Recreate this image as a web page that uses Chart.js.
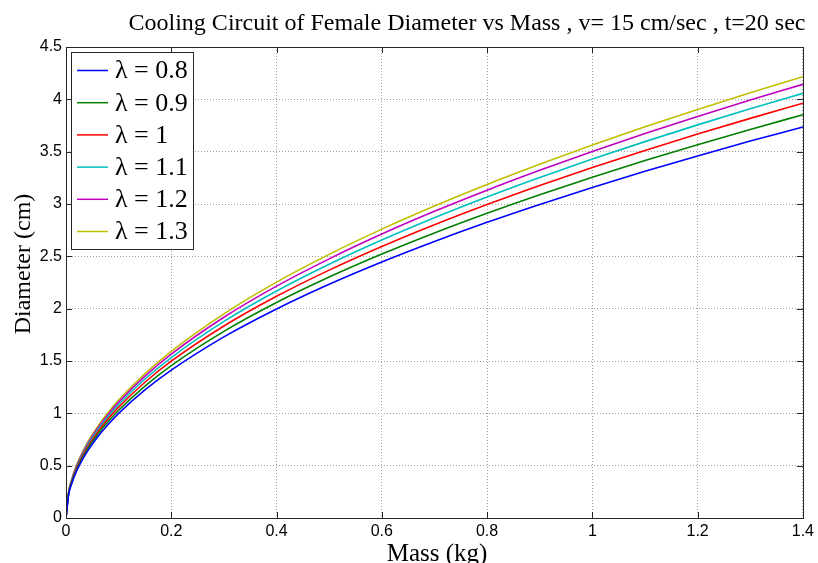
<!DOCTYPE html>
<html>
<head>
<meta charset="utf-8">
<script src="https://cdn.jsdelivr.net/npm/chart.js@4.4.1/dist/chart.umd.min.js"></script>
<style>
  html, body { margin: 0; padding: 0; background: #fff; }
  canvas { display: block; }
</style>
</head>
<body>
<canvas id="chart" width="818" height="563"></canvas>
<script>
// values
const mass = [0, 0.005, 0.01, 0.02, 0.04, 0.06, 0.08, 0.1, 0.15, 0.2, 0.3, 0.4, 0.5, 0.6, 0.7, 0.8, 0.9, 1.0, 1.1, 1.2, 1.3, 1.4];
const lambdas = ['0.8', '0.9', '1', '1.1', '1.2', '1.3'];
const d08 = [0, 0.223, 0.316, 0.447, 0.632, 0.773, 0.893, 0.999, 1.223, 1.412, 1.730, 1.997, 2.233, 2.446, 2.642, 2.825, 2.996, 3.158, 3.312, 3.459, 3.601, 3.736];
const d09 = [0, 0.230, 0.326, 0.460, 0.651, 0.797, 0.921, 1.030, 1.261, 1.456, 1.783, 2.059, 2.302, 2.522, 2.724, 2.912, 3.089, 3.256, 3.415, 3.567, 3.712, 3.853];
const d10 = [0, 0.237, 0.335, 0.474, 0.670, 0.820, 0.947, 1.059, 1.297, 1.498, 1.834, 2.118, 2.368, 2.594, 2.802, 2.995, 3.177, 3.349, 3.512, 3.668, 3.818, 3.962];
const d11 = [0, 0.242, 0.343, 0.485, 0.686, 0.840, 0.970, 1.084, 1.328, 1.533, 1.878, 2.169, 2.425, 2.656, 2.869, 3.067, 3.253, 3.429, 3.596, 3.756, 3.910, 4.057];
const d12 = [0, 0.248, 0.350, 0.495, 0.700, 0.858, 0.990, 1.107, 1.356, 1.566, 1.918, 2.215, 2.476, 2.713, 2.930, 3.132, 3.322, 3.502, 3.673, 3.836, 3.993, 4.143];
const d13 = [0, 0.252, 0.356, 0.504, 0.713, 0.873, 1.008, 1.127, 1.380, 1.593, 1.951, 2.254, 2.519, 2.760, 2.981, 3.187, 3.380, 3.563, 3.737, 3.903, 4.063, 4.216];
const series = [d08, d09, d10, d11, d12, d13];
const colors = ['#0000ff', '#008000', '#ff0000', '#00bfbf', '#bf00bf', '#bfbf00'];

const serif = '"Liberation Serif", "Times New Roman", serif';
const sans = '"Liberation Sans", Arial, sans-serif';

// title, axis titles, axes frame with inward ticks, and the boxed legend
const matlabLook = {
  id: 'matlabLook',
  afterDatasetsDraw(chart) {
    const { ctx, chartArea: a, scales: { x, y } } = chart;
    ctx.save();
    ctx.strokeStyle = '#262626';
    ctx.lineWidth = 1;
    ctx.beginPath();
    x.ticks.forEach(t => {
      const px = Math.round(x.getPixelForValue(t.value)) + 0.5;
      ctx.moveTo(px, a.bottom); ctx.lineTo(px, a.bottom - 6);
      ctx.moveTo(px, a.top); ctx.lineTo(px, a.top + 6);
    });
    y.ticks.forEach(t => {
      const py = Math.round(y.getPixelForValue(t.value)) + 0.5;
      ctx.moveTo(a.left, py); ctx.lineTo(a.left + 6, py);
      ctx.moveTo(a.right, py); ctx.lineTo(a.right - 6, py);
    });
    ctx.stroke();
    ctx.strokeRect(Math.round(a.left) + 0.5, Math.round(a.top) + 0.5, Math.round(a.right - a.left), Math.round(a.bottom - a.top));

    // legend
    const lx = 71.5, ly = 52.5, lw = 122, lh = 197;
    ctx.fillStyle = '#fff';
    ctx.fillRect(lx, ly, lw, lh);
    ctx.strokeRect(lx, ly, lw, lh);
    ctx.font = '26px ' + serif;
    ctx.textBaseline = 'middle';
    ctx.textAlign = 'left';
    chart.data.datasets.forEach((ds, i) => {
      const yy = ly + 18 + i * 32.2;
      ctx.strokeStyle = ds.borderColor;
      ctx.lineWidth = 1.5;
      ctx.beginPath();
      ctx.moveTo(77, yy); ctx.lineTo(108, yy);
      ctx.stroke();
      ctx.fillStyle = '#000';
      ctx.fillText(ds.label, 115, yy + 1);
    });

    // titles
    ctx.fillStyle = '#000';
    ctx.textAlign = 'center';
    ctx.textBaseline = 'alphabetic';
    ctx.font = '24px ' + serif;
    ctx.fillText('Cooling Circuit of Female Diameter vs Mass , v= 15 cm/sec , t=20 sec', 467, 30);
    ctx.font = '25px ' + serif;
    ctx.fillText('Mass (kg)', 437, 561);
    ctx.translate(30, 264);
    ctx.rotate(-Math.PI / 2);
    ctx.font = '24px ' + serif;
    ctx.fillText('Diameter (cm)', 0, 0);
    ctx.restore();
  }
};

const gridStyle = {
  color: '#a0a0a0',
  lineWidth: 1,
  drawTicks: false
};

new Chart(document.getElementById('chart').getContext('2d'), {
  type: 'line',
  data: {
    datasets: series.map((vals, i) => ({
      label: 'λ = ' + lambdas[i],
      data: mass.map((m, j) => ({ x: m, y: vals[j] })),
      borderColor: colors[i],
      backgroundColor: colors[i],
      borderWidth: 1.6,
      pointRadius: 0,
      cubicInterpolationMode: 'monotone',
      fill: false
    }))
  },
  options: {
    responsive: false,
    animation: false,
    layout: { padding: { top: 47, right: 13, left: 0, bottom: 0 } },
    plugins: {
      legend: { display: false },
      title: { display: false },
      tooltip: { enabled: false }
    },
    scales: {
      x: {
        type: 'linear',
        min: 0,
        max: 1.4,
        border: { display: false, dash: [1, 2] },
        grid: gridStyle,
        ticks: {
          stepSize: 0.2,
          padding: 4,
          color: '#000',
          font: { family: sans, size: 16 },
          callback: v => String(Math.round(v * 10) / 10)
        },
        afterFit: s => { s.height = 45; }
      },
      y: {
        min: 0,
        max: 4.5,
        border: { display: false, dash: [1, 2] },
        grid: gridStyle,
        ticks: {
          stepSize: 0.5,
          padding: 4,
          color: '#000',
          font: { family: sans, size: 16 },
          callback: v => String(Math.round(v * 10) / 10)
        },
        afterFit: s => { s.width = 66; }
      }
    }
  },
  plugins: [matlabLook]
});
</script>
</body>
</html>
